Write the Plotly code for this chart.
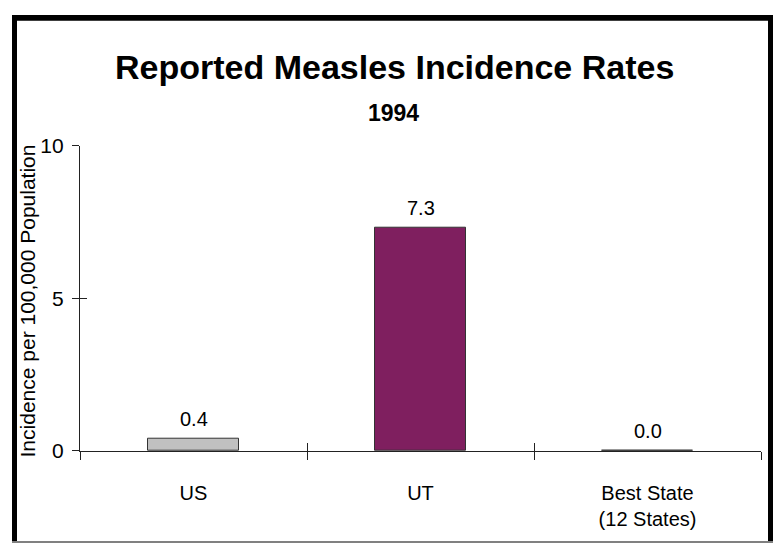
import plotly.graph_objects as go

# Reported measles incidence per 100,000 population, 1994
categories = ["US", "UT", "Best State<br>(12 States)"]
rates = [0.4, 7.3, 0.0]
bar_colors = ["#c0c0c0", "#7f1f5f", "#c0c0c0"]
y_ticks = [0, 5, 10]

W, H = 773, 554
FONT = "Liberation Sans, Arial, sans-serif"

positions = list(range(len(categories)))
boundaries = [p - 0.5 for p in positions] + [positions[-1] + 0.5]
x_range = [boundaries[0], boundaries[-1]]
y_range = [0, 10]

x_dom = [80 / W, 761 / W]
y_dom = [1 - 458 / H, 1 - 139.5 / H]

fig = go.Figure()

fig.add_trace(go.Bar(
    x=positions, y=rates, width=0.4,
    marker=dict(color=bar_colors, line=dict(color="#333333", width=1)),
    hoverinfo="skip", showlegend=False,
))

# invisible helpers so the overlay tick axes get drawn
for xa, ya in (("x2", "y2"), ("x3", "y3")):
    fig.add_trace(go.Scatter(
        x=positions, y=rates, xaxis=xa, yaxis=ya, mode="markers",
        marker=dict(opacity=0), hoverinfo="skip", showlegend=False,
    ))

# value labels above each bar
for p, v in zip(positions, rates):
    fig.add_annotation(
        x=p, y=v, xref="x", yref="y", text=f"{v:.1f}", showarrow=False,
        yanchor="bottom", yshift=7,
        font=dict(family=FONT, size=20, color="#000000"),
    )

fig.update_layout(
    width=W, height=H,
    margin=dict(l=0, r=0, t=0, b=0),
    paper_bgcolor="white", plot_bgcolor="white",
    font=dict(family=FONT, color="#000000"),
    bargap=0,
    xaxis=dict(
        domain=x_dom, range=x_range, tickvals=positions, ticktext=categories,
        ticks="", showline=True, linecolor="#222222", linewidth=1.2,
        showgrid=False, zeroline=False, ticklabelstandoff=24,
        tickfont=dict(family=FONT, size=20, color="#000000"), fixedrange=True,
    ),
    yaxis=dict(
        domain=y_dom, range=y_range, tickvals=y_ticks,
        ticks="outside", ticklen=7, tickcolor="#222222", tickwidth=1,
        showline=True, linecolor="#222222", linewidth=1.2,
        showgrid=False, zeroline=False, ticklabelstandoff=4,
        tickfont=dict(family=FONT, size=21, color="#000000"), fixedrange=True,
    ),
    # boundary ticks below the category axis and inward ticks on both axes
    xaxis2=dict(
        domain=x_dom, range=x_range, overlaying="x", anchor="y2", side="bottom",
        tickvals=boundaries, ticks="outside", ticklen=8, tickcolor="#222222",
        tickwidth=1, showticklabels=False, showline=False, showgrid=False,
        zeroline=False, fixedrange=True,
    ),
    yaxis2=dict(
        domain=y_dom, range=y_range, overlaying="y", anchor="x2", side="left",
        tickvals=y_ticks, ticks="", showticklabels=False, showline=False,
        showgrid=False, zeroline=False, fixedrange=True,
    ),
    xaxis3=dict(
        domain=x_dom, range=x_range, overlaying="x", anchor="y3", side="bottom",
        tickvals=boundaries, ticks="inside", ticklen=8, tickcolor="#222222",
        tickwidth=1, showticklabels=False, showline=False, showgrid=False,
        zeroline=False, fixedrange=True,
    ),
    yaxis3=dict(
        domain=y_dom, range=y_range, overlaying="y", anchor="x3", side="left",
        tickvals=y_ticks, ticks="inside", ticklen=7, tickcolor="#222222",
        tickwidth=1, showticklabels=False, showline=False, showgrid=False,
        zeroline=False, fixedrange=True,
    ),
)

# titles
fig.add_annotation(
    x=394.5 / W, y=1 - 57 / H, xref="paper", yref="paper",
    text="<b>Reported Measles Incidence Rates</b>", showarrow=False,
    xanchor="center", yanchor="middle",
    font=dict(family=FONT, size=34, color="#000000"),
)
fig.add_annotation(
    x=393 / W, y=1 - 105 / H, xref="paper", yref="paper",
    text="<b>1994</b>", showarrow=False, xanchor="center", yanchor="middle",
    font=dict(family=FONT, size=23, color="#000000"),
)
fig.add_annotation(
    x=27 / W, y=1 - 302 / H, xref="paper", yref="paper",
    text="Incidence per 100,000 Population", textangle=-90, showarrow=False,
    xanchor="center", yanchor="middle",
    font=dict(family=FONT, size=21, color="#000000"),
)

# frame around the slide
def px_rect(x0, y0, x1, y1, color):
    return dict(type="rect", xref="paper", yref="paper",
                x0=x0 / W, x1=x1 / W, y0=1 - y1 / H, y1=1 - y0 / H,
                fillcolor=color, line=dict(width=0), layer="above")

fig.update_layout(shapes=[
    px_rect(12, 3, 17, 554, "#000000"),
    px_rect(12, 3, 773, 9, "#000000"),
    px_rect(768, 3, 773, 554, "#000000"),
    px_rect(12, 552, 773, 554, "#808080"),
])

fig.write_html("out.html")
